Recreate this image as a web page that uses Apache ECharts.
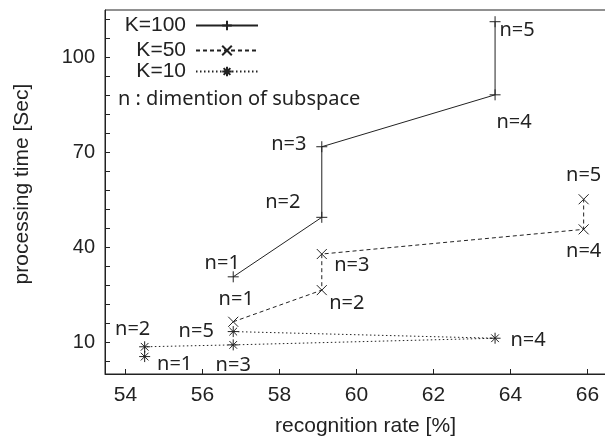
<!DOCTYPE html>
<html>
<head>
<meta charset="utf-8">
<script src="https://cdn.jsdelivr.net/npm/echarts@6/dist/echarts.min.js"></script>
<style>html,body{margin:0;padding:0;background:#fff;}#c{width:605px;height:443px;}</style>
</head>
<body>
<div id="c"></div>
<script>
// ---- data ----
const nDims = [1, 2, 3, 4, 5];
const rateK100 = [56.8, 59.1, 59.1, 63.6, 63.6];
const timeK100 = [30.7, 49.5, 71.8, 88.2, 111.3];
const rateK50 = [56.8, 59.1, 59.1, 65.9, 65.9];
const timeK50 = [16.5, 26.5, 37.9, 45.7, 55.2];
const rateK10 = [54.5, 54.5, 56.8, 63.6, 56.8];
const timeK10 = [5.5, 8.6, 9.2, 11.3, 13.4];
const seriesNames = ['K=100', 'K=50', 'K=10'];
const xTickValues = [54, 56, 58, 60, 62, 64, 66];
const yLabelValues = [10, 40, 70, 100];
const yTickValues = [4, 10, 16, 22, 28, 34, 40, 46, 52, 58, 64, 70, 76, 82, 88, 94, 100, 106, 112];
const noteText = 'n : dimention of subspace';

// ---- label placement (style only) ----
const offK100 = [[-11, -14], [-39, -15], [-33, -2], [19, 27], [22, 9]];
const offK50 = [[3, -22], [25, 13], [30, 11], [0, 22], [0, -24]];
const offK10 = [[30, 8], [-12, -17], [0, 20], [33, 2], [-37, 0]];

function build(xs, ys, offs) {
  return xs.map((x, i) => ({
    value: [x, ys[i]],
    label: { show: true, position: 'inside', offset: offs[i], formatter: 'n=' + nDims[i] }
  }));
}

const plusPath = 'path://M5,0L5,10M0,5L10,5';
const crossPath = 'path://M0,0L10,10M10,0L0,10';
const starPath = 'path://M5,0L5,10M0,5L10,5M1.5,1.5L8.5,8.5M8.5,1.5L1.5,8.5';

const labelStyle = { fontFamily: 'Noto Sans', fontSize: 20, color: '#222' };

function mkSeries(name, data, symbol, size, type) {
  return {
    name: name, type: 'line', data: data,
    symbol: symbol, symbolSize: size, showAllSymbol: true,
    itemStyle: { color: 'rgba(0,0,0,0)', borderColor: '#222', borderWidth: 1 },
    lineStyle: { color: '#222', width: 1, type: type },
    label: Object.assign({}, labelStyle),
    emphasis: { disabled: true },
    animation: false
  };
}

const chart = echarts.init(document.getElementById('c'), null, { renderer: 'canvas' });
const legendBase = {
  orient: 'vertical', right: 346, align: 'right', itemWidth: 62, itemHeight: 12,
  padding: 0,
  textStyle: { fontFamily: 'Liberation Sans', fontSize: 21, color: '#222', padding: [0, 5, 0, 0] },
  selectedMode: false
};
chart.setOption({
  animation: false,
  grid: { left: 105, right: -21, top: 10, bottom: 69, show: true, borderColor: '#222', borderWidth: 1,
          containLabel: false, outerBoundsMode: 'none' },
  xAxis: {
    type: 'value', min: 53.47, max: 67,
    name: 'recognition rate [%]', nameLocation: 'middle', nameGap: 42,
    nameTextStyle: { fontFamily: 'Liberation Sans', fontSize: 21, color: '#222' },
    axisLine: { show: true, lineStyle: { color: '#222' } },
    axisTick: { show: true, inside: true, length: 5, customValues: xTickValues, lineStyle: { color: '#222' } },
    axisLabel: { customValues: xTickValues, fontFamily: 'Liberation Sans', fontSize: 21, color: '#222', margin: 11 },
    splitLine: { show: false }
  },
  yAxis: {
    type: 'value', min: 0, max: 115,
    name: 'processing time [Sec]', nameLocation: 'middle', nameGap: 72,
    nameTextStyle: { fontFamily: 'Liberation Sans', fontSize: 21, color: '#222', padding: [0, 0, 0, 16] },
    axisLine: { show: true, lineStyle: { color: '#222' } },
    axisTick: { show: true, inside: true, length: 5, customValues: yTickValues, lineStyle: { color: '#222' } },
    axisLabel: { customValues: yLabelValues, fontFamily: 'Liberation Sans', fontSize: 20, color: '#222', margin: 10 },
    splitLine: { show: false }
  },
  legend: [
    Object.assign({}, legendBase, { top: 15, data: [seriesNames[0]] }),
    Object.assign({}, legendBase, { top: 40, data: [seriesNames[1]] }),
    Object.assign({}, legendBase, { top: 61, data: [seriesNames[2]] })
  ],
  title: {
    text: noteText, left: 118, top: 89, padding: 0,
    textStyle: { fontFamily: 'Noto Sans', fontSize: 20, fontWeight: 'normal', color: '#222' }
  },
  series: [
    mkSeries(seriesNames[0], build(rateK100, timeK100, offK100), plusPath, 11, 'solid'),
    mkSeries(seriesNames[1], build(rateK50, timeK50, offK50), crossPath, 10, [4, 3]),
    mkSeries(seriesNames[2], build(rateK10, timeK10, offK10), starPath, 11, [1.5, 2.5])
  ]
});
</script>
</body>
</html>
